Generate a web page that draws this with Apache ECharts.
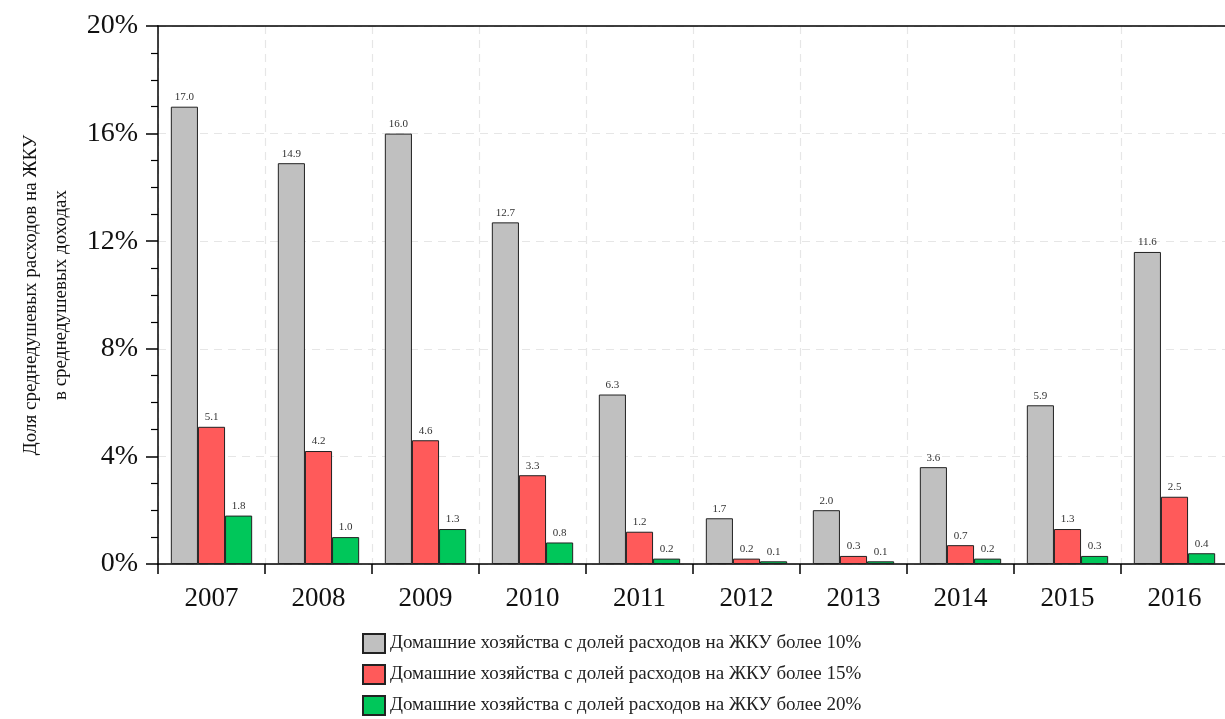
<!DOCTYPE html>
<html>
<head>
<meta charset="utf-8">
<script src="https://cdn.jsdelivr.net/npm/echarts@6/dist/echarts.min.js"></script>
<style>
  html, body { margin: 0; padding: 0; background: #fff; }
  #chart { width: 1225px; height: 719px; }
</style>
</head>
<body>
<div id="chart"></div>
<script>
// годы
const years = ['2007', '2008', '2009', '2010', '2011', '2012', '2013', '2014', '2015', '2016']

// доли домохозяйств, %
const share10 = [17.0, 14.9, 16.0, 12.7, 6.3, 1.7, 2.0, 3.6, 5.9, 11.6]
const share15 = [5.1, 4.2, 4.6, 3.3, 1.2, 0.2, 0.3, 0.7, 1.3, 2.5]
const share20 = [1.8, 1.0, 1.3, 0.8, 0.2, 0.1, 0.1, 0.2, 0.3, 0.4]

const seriesNames = [
  'Домашние хозяйства с долей расходов на ЖКУ более 10%',
  'Домашние хозяйства с долей расходов на ЖКУ более 15%',
  'Домашние хозяйства с долей расходов на ЖКУ более 20%'
]
const colors = ['#c0c0c0', '#ff5a5a', '#00c75a']

const font = '"Liberation Serif", "DejaVu Serif", serif'

const chart = echarts.init(document.getElementById('chart'), null, { renderer: 'canvas' })

const makeSeries = (name, data, color) => ({
  name,
  type: 'bar',
  data,
  barGap: '0%',
  barCategoryGap: '24%',
  itemStyle: { color, borderColor: '#222', borderWidth: 1 },
  label: {
    show: true,
    position: 'top',
    distance: 4,
    fontFamily: font,
    fontSize: 11,
    color: '#333',
    formatter: (p) => p.value.toFixed(1)
  }
})

chart.setOption({
  animation: false,
  textStyle: { fontFamily: font },
  grid: { left: 158, top: 26, right: -3, bottom: 155, containLabel: false, outerBoundsMode: 'none' },
  legend: {
    orient: 'vertical',
    left: 362,
    top: 633,
    padding: 0,
    height: 90,
    itemWidth: 22,
    itemHeight: 19,
    itemGap: 10,
    icon: 'rect',
    textStyle: { fontFamily: font, fontSize: 19, color: '#222' },
    data: seriesNames
  },
  xAxis: [
    {
      type: 'category',
      data: years,
      axisLine: { lineStyle: { color: '#000', width: 1.5 } },
      axisTick: { show: true, length: 10, alignWithLabel: false, lineStyle: { color: '#000', width: 1.5 } },
      axisLabel: { fontFamily: font, fontSize: 27, color: '#111', margin: 21 },
      splitLine: { show: true, lineStyle: { color: '#e6e6e6', type: [8, 6], width: 1.2 } }
    },
    {
      type: 'category',
      data: years,
      position: 'top',
      axisLine: { show: true, lineStyle: { color: '#000', width: 1.5 } },
      axisTick: { show: false },
      axisLabel: { show: false },
      splitLine: { show: false }
    }
  ],
  yAxis: {
    type: 'value',
    min: 0,
    max: 20,
    interval: 4,
    name: 'Доля среднедушевых расходов на ЖКУ\nв среднедушевых доходах',
    nameLocation: 'middle',
    nameGap: 82,
    nameTextStyle: { fontFamily: font, fontSize: 19, color: '#111', lineHeight: 30 },
    axisLine: { show: true, lineStyle: { color: '#000', width: 1.5 } },
    axisTick: { show: true, length: 12, lineStyle: { color: '#000', width: 1.5 } },
    minorTick: { show: true, splitNumber: 4, length: 7, lineStyle: { color: '#000', width: 1.2 } },
    axisLabel: { fontFamily: font, fontSize: 28, color: '#111', margin: 20, formatter: '{value}%' },
    splitLine: { show: true, lineStyle: { color: '#e6e6e6', type: [8, 6], width: 1.2 } }
  },
  series: [
    makeSeries(seriesNames[0], share10, colors[0]),
    makeSeries(seriesNames[1], share15, colors[1]),
    makeSeries(seriesNames[2], share20, colors[2])
  ]
})
</script>
</body>
</html>
